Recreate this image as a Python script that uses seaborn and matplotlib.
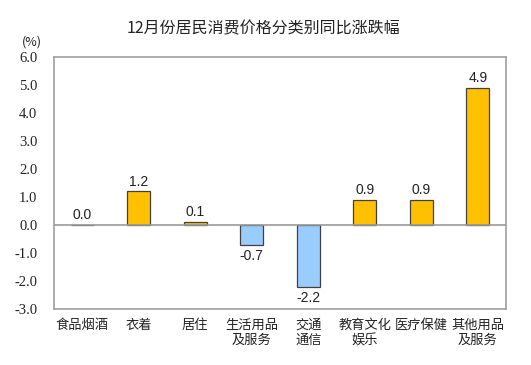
import matplotlib
matplotlib.use("Agg")
import matplotlib.pyplot as plt
import seaborn as sns
import pandas as pd

categories = ["食品烟酒", "衣着", "居住", "生活用品\n及服务", "交通\n通信", "教育文化\n娱乐", "医疗保健", "其他用品\n及服务"]
values = [0.0, 1.2, 0.1, -0.7, -2.2, 0.9, 0.9, 4.9]
yticks = [-3.0, -2.0, -1.0, 0.0, 1.0, 2.0, 3.0, 4.0, 5.0, 6.0]
title = "12月份居民消费价格分类别同比涨跌幅"

sns.set_theme(style="white")
plt.rcParams['font.family'] = ['Noto Sans CJK SC', 'DejaVu Sans']

df = pd.DataFrame({"cat": categories, "val": values})
df["sign"] = ["neg" if v < 0 else "pos" for v in values]

fig = plt.figure(figsize=(5.31, 3.65), dpi=100)
ax = fig.add_axes([54/531, 1-309/365, 452/531, 252/365])

sns.barplot(data=df, x="cat", y="val", hue="sign", palette={"pos": "#FFC000", "neg": "#99CCFF"},
            dodge=False, width=0.4, edgecolor="#404040", linewidth=0.9, legend=False, ax=ax,
            order=categories, saturation=1)

ax.set_ylim(-3, 6)
ax.set_xlim(-0.5, len(categories) - 0.5)
ax.set_yticks(yticks)
ax.set_yticklabels([f"{t:.1f}" for t in yticks], family="Liberation Serif", fontsize=10.5, color="#222222")
ax.tick_params(axis="y", direction="in", length=3, color="#999999", pad=12)
ax.tick_params(axis="x", length=0, pad=7, labelsize=9.5, colors="#222222")
for lbl in ax.get_xticklabels():
    lbl.set_linespacing(1.25)
    lbl.set_verticalalignment("top")
ax.set_xlabel("")
ax.set_ylabel("")
ax.axhline(0, color="#999999", linewidth=1.2, zorder=5)
for s in ax.spines.values():
    s.set_color("#a0a0a0")
    s.set_linewidth(1.2)

for i, v in enumerate(values):
    if v >= 0:
        ax.annotate(f"{v:.1f}", (i, v), xytext=(0, 2), textcoords="offset points",
                    ha="center", va="bottom", fontsize=10, color="#222222", family="Liberation Sans")
    else:
        ax.annotate(f"{v:.1f}", (i, v), xytext=(0, -3), textcoords="offset points",
                    ha="center", va="top", fontsize=10, color="#222222", family="Liberation Sans")

fig.text(263/531, 1 - 29/365, title, ha="center", va="center", fontsize=11.5, color="#222222")
fig.text(32/531, 1 - 42/365, "(%)", ha="center", va="center", fontsize=9, color="#222222")

fig.savefig("out.png", dpi=100, facecolor="white")
